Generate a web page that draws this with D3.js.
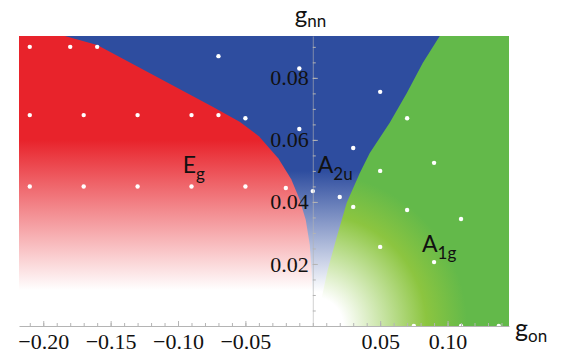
<!DOCTYPE html>
<html>
<head>
<meta charset="utf-8">
<script src="https://cdn.jsdelivr.net/npm/d3@7"></script>
<style>
  body { margin: 0; background: #fff; }
</style>
</head>
<body>
<svg id="chart"></svg>
<script>
// Phase boundaries, as [g_on, g_nn]
const redBlueBoundary = [
  [-0.184, 0.0935], [-0.160, 0.0906], [-0.074, 0.0706], [-0.054, 0.0658],
  [-0.040, 0.0612], [-0.0255, 0.0540], [-0.0160, 0.0473], [-0.0096, 0.0406],
  [-0.0052, 0.0342], [-0.0022, 0.0261], [-0.0007, 0.0164], [0, 0]
];
const blueGreenBoundary = [
  [0.0942, 0.0935], [0.0816, 0.0848], [0.0698, 0.0751], [0.0571, 0.0655],
  [0.0423, 0.0558], [0.0349, 0.0493], [0.0252, 0.0397], [0.0178, 0.0287],
  [0.0111, 0.0181], [0.0074, 0.0106], [0.002, 0]
];

// Sampled points (white dots)
const samplePoints = [
  [-0.21, 0.090], [-0.18, 0.090], [-0.16, 0.090], [-0.07, 0.087],
  [-0.21, 0.068], [-0.17, 0.068], [-0.13, 0.068], [-0.09, 0.068], [-0.07, 0.068], [-0.05, 0.067],
  [-0.01, 0.083], [0.05, 0.0755], [0.07, 0.067], [-0.01, 0.0635], [0.03, 0.0574], [0.09, 0.0526], [0.05, 0.050],
  [-0.21, 0.045], [-0.17, 0.045], [-0.13, 0.045], [-0.09, 0.045], [-0.05, 0.045],
  [-0.02, 0.0445], [0, 0.0435], [0.02, 0.0416], [0.03, 0.0384], [0.07, 0.0374], [0.11, 0.0345],
  [0.05, 0.0255], [0.09, 0.0206],
  [0.075, 0], [0.11, 0], [0.138, 0]
];

// Region labels: [main, subscript, g_on, g_nn]
const regionLabels = [
  ["E", "g", -0.0965, 0.0493],
  ["A", "2u", 0.0037, 0.0493],
  ["A", "1g", 0.081, 0.0239]
];

const xTicks = [-0.20, -0.15, -0.10, -0.05, 0.05, 0.10];
const yTicks = [0.02, 0.04, 0.06, 0.08];
const xDomain = [-0.218, 0.1456];
const yDomain = [0, 0.0935];

const width = 563, height = 355;

const svg = d3.select("#chart")
    .attr("width", width)
    .attr("height", height);

const xScale = d3.scaleLinear().domain(xDomain).range([19, 509]);
const yScale = d3.scaleLinear().domain(yDomain).range([326, 36]);

const defs = svg.append("defs");

// vertical fade to white towards the bottom (opaque colours so layers don't mix)
function fadeGradient(id, color, from, to) {
    const g = defs.append("linearGradient")
        .attr("id", id)
        .attr("gradientUnits", "userSpaceOnUse")
        .attr("x1", 0).attr("x2", 0)
        .attr("y1", yScale(from)).attr("y2", yScale(to));
    g.append("stop").attr("offset", 0).attr("stop-color", color);
    g.append("stop").attr("offset", 1).attr("stop-color", "#ffffff");
}
fadeGradient("redGrad", "#e8232b", 0.06, 0.0115);
fadeGradient("blueGrad", "#2e4d9f", 0.05, 0.011);

// green fades radially towards the origin
const greenGrad = defs.append("radialGradient")
    .attr("id", "greenGrad")
    .attr("gradientUnits", "userSpaceOnUse")
    .attr("cx", xScale(0.001)).attr("cy", yScale(0))
    .attr("fx", xScale(0.001)).attr("fy", yScale(0))
    .attr("r", 170);
[[0, "#ffffff"], [0.17, "#ffffff"], [0.42, "#c4e29e"], [0.66, "#8cc540"], [0.9, "#63b94a"]]
  .forEach(s => greenGrad.append("stop").attr("offset", s[0]).attr("stop-color", s[1]));

const line = d3.line().x(d => xScale(d[0])).y(d => yScale(d[1]));

const yTop = yDomain[1];
const redRegion = [[xDomain[0], yTop]].concat(redBlueBoundary, [[xDomain[0], 0]]);
const greenRegion = blueGreenBoundary.concat([[xDomain[1], 0], [xDomain[1], yTop]]);

// blue underneath the whole plot, red and green on top (no seams)
svg.append("rect")
    .attr("x", xScale(xDomain[0]) + 2)
    .attr("y", yScale(yTop))
    .attr("width", xScale(xDomain[1]) - xScale(xDomain[0]) - 4)
    .attr("height", yScale(0) - yScale(yTop))
    .attr("fill", "url(#blueGrad)");
svg.append("path").attr("d", line(redRegion) + "Z").attr("fill", "url(#redGrad)");
svg.append("path").attr("d", line(greenRegion) + "Z").attr("fill", "url(#greenGrad)");

// white sample dots
svg.selectAll(".dot")
    .data(samplePoints)
    .enter().append("circle")
    .attr("class", "dot")
    .attr("cx", d => xScale(d[0]))
    .attr("cy", d => yScale(d[1]))
    .attr("r", 2.2)
    .attr("fill", "#fff");

// x axis: minor ticks then major ticks with labels
const axisColor = "#b4b4b4";
const xMinor = svg.append("g")
    .attr("transform", `translate(0, ${yScale(0)})`)
    .call(d3.axisBottom(xScale).tickValues(d3.range(-0.21, 0.145, 0.01)).tickSize(-3).tickFormat(""));
xMinor.select(".domain").remove();
xMinor.selectAll("line").attr("stroke", axisColor);

const xAxis = svg.append("g")
    .attr("transform", `translate(0, ${yScale(0)})`)
    .call(d3.axisBottom(xScale).tickValues(xTicks).tickSizeInner(-5).tickSizeOuter(0)
        .tickPadding(7).tickFormat(d3.format(".2f")));
xAxis.select(".domain").attr("stroke", axisColor);
xAxis.selectAll("line").attr("stroke", axisColor);
xAxis.selectAll("text")
    .attr("fill", "#111")
    .style("font-family", "'Liberation Serif', serif")
    .style("font-size", "22px");

// y axis
const yMinor = svg.append("g")
    .attr("transform", `translate(${xScale(0)}, 0)`)
    .call(d3.axisLeft(yScale).tickValues(d3.range(0.005, 0.092, 0.005)).tickSize(-3).tickFormat(""));
yMinor.select(".domain").remove();
yMinor.selectAll("line").attr("stroke", axisColor);

const yAxis = svg.append("g")
    .attr("transform", `translate(${xScale(0)}, 0)`)
    .call(d3.axisLeft(yScale).tickValues(yTicks).tickSizeInner(-5).tickSizeOuter(0)
        .tickPadding(4).tickFormat(d3.format(".2f")));
yAxis.select(".domain").attr("stroke", axisColor).attr("stroke-opacity", 0.6);
yAxis.selectAll("line").attr("stroke", axisColor);
yAxis.selectAll("text")
    .attr("fill", "#111")
    .style("font-family", "'Liberation Serif', serif")
    .style("font-size", "22px");

// helper for subscripted labels
function subLabel(x, y, main, sub, size, subSize, dy) {
    const t = svg.append("text")
        .attr("x", x).attr("y", y)
        .style("font-family", "Lato, 'Open Sans', sans-serif")
        .attr("fill", "#111");
    t.append("tspan").text(main).style("font-size", size + "px");
    t.append("tspan").text(sub).attr("dy", dy).style("font-size", subSize + "px");
    return t;
}

// axis titles
subLabel(xScale(0) - 18, yScale(yTop) - 13, "g", "nn", 24, 17, 4);
subLabel(xScale(xDomain[1]) + 6, yScale(0) + 11, "g", "on", 25, 17, 5);

// region labels
regionLabels.forEach(d => {
    subLabel(xScale(d[2]), yScale(d[3]), d[0], d[1], 23, 17, 7);
});
</script>
</body>
</html>
